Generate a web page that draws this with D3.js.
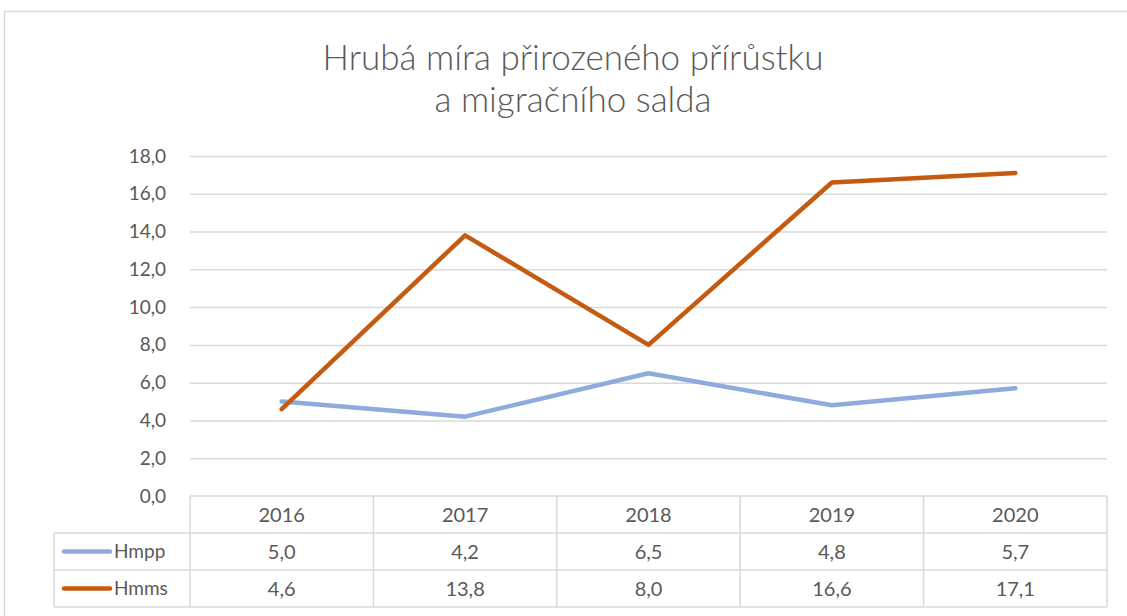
<!DOCTYPE html>
<html>
<head>
<meta charset="utf-8">
<script src="https://cdn.jsdelivr.net/npm/d3@7"></script>
<style>
  html, body { margin: 0; padding: 0; background: #fff; }
  svg { display: block; font-family: Lato, "Open Sans", sans-serif; }
</style>
</head>
<body>
<div id="chart"></div>
<script>
// Data
const years = ['2016', '2017', '2018', '2019', '2020'];
const seriesNames = ['Hmpp', 'Hmms'];
const hmpp = [5.0, 4.2, 6.5, 4.8, 5.7];
const hmms = [4.6, 13.8, 8.0, 16.6, 17.1];
const seriesColors = ['#8faadc', '#c55a11'];
const yTicks = [0, 2, 4, 6, 8, 10, 12, 14, 16, 18];
const titleLines = ['Hrubá míra přirozeného přírůstku', 'a migračního salda'];

const width = 1127, height = 616;
const plot = {left: 190, right: 1107, top: 156, bottom: 496};
const rowH = 37;
const fmt = v => v.toFixed(1).replace('.', ',');

const svg = d3.select('#chart').append('svg')
    .attr('width', width)
    .attr('height', height);

// chart border
svg.append('rect')
    .attr('x', 4.5).attr('y', 11.5)
    .attr('width', 1140).attr('height', 620)
    .attr('fill', '#fff')
    .attr('stroke', '#d9d9d9')
    .attr('stroke-width', 1.5);

// title
svg.append('g').selectAll('text')
    .data(titleLines)
    .enter().append('text')
    .attr('x', 573)
    .attr('y', (d, i) => 70 + i * 42)
    .attr('text-anchor', 'middle')
    .style('font-size', '35px')
    .style('font-weight', 300)
    .style('fill', '#595959')
    .text(d => d);

const x = d3.scaleBand().domain(years).range([plot.left, plot.right]);
const y = d3.scaleLinear().domain([0, 18]).range([plot.bottom, plot.top]);

// gridlines
svg.append('g')
    .attr('transform', `translate(${plot.left},0)`)
    .call(d3.axisLeft(y).tickValues(yTicks.slice(1)).tickSize(-(plot.right - plot.left)).tickFormat(''))
    .call(g => g.select('.domain').remove())
    .selectAll('line')
    .attr('stroke', '#d9d9d9')
    .attr('stroke-width', 1.5);

// y labels
svg.append('g')
    .attr('transform', `translate(${plot.left},0)`)
    .call(d3.axisLeft(y).tickValues(yTicks).tickSize(0).tickPadding(24).tickFormat(fmt))
    .call(g => g.select('.domain').remove())
    .selectAll('text')
    .attr('dy', '0.32em')
    .style('font-family', 'Lato, "Open Sans", sans-serif')
    .style('font-size', '19px')
    .style('fill', '#595959');

// lines
const line = d3.line()
    .x((d, i) => x(years[i]) + x.bandwidth() / 2)
    .y(d => y(d));

[hmpp, hmms].forEach((vals, k) => {
    svg.append('path')
        .datum(vals)
        .attr('fill', 'none')
        .attr('stroke', seriesColors[k])
        .attr('stroke-width', 4.5)
        .attr('stroke-linejoin', 'round')
        .attr('stroke-linecap', 'round')
        .attr('d', line);
});

// data table
const table = svg.append('g');
const border = '#d9d9d9';
const tableLeft = 54;
const tBottom = plot.bottom + rowH * 3;

// horizontal lines
table.append('line')
    .attr('x1', plot.left).attr('x2', plot.right)
    .attr('y1', plot.bottom).attr('y2', plot.bottom);
[1, 2, 3].forEach(r => {
    table.append('line')
        .attr('x1', tableLeft).attr('x2', plot.right)
        .attr('y1', plot.bottom + rowH * r).attr('y2', plot.bottom + rowH * r);
});
// vertical lines
table.append('line')
    .attr('x1', tableLeft).attr('x2', tableLeft)
    .attr('y1', plot.bottom + rowH).attr('y2', tBottom);
years.forEach(yr => {
    table.append('line')
        .attr('x1', x(yr)).attr('x2', x(yr))
        .attr('y1', plot.bottom).attr('y2', tBottom);
});
table.append('line')
    .attr('x1', plot.right).attr('x2', plot.right)
    .attr('y1', plot.bottom).attr('y2', tBottom);
table.selectAll('line')
    .attr('stroke', border)
    .attr('stroke-width', 1.5);

// header row
table.selectAll('.year')
    .data(years)
    .enter().append('text')
    .attr('class', 'year')
    .attr('x', d => x(d) + x.bandwidth() / 2)
    .attr('y', plot.bottom + rowH / 2)
    .attr('dy', '0.35em')
    .attr('text-anchor', 'middle')
    .style('font-size', '20px')
    .style('fill', '#595959')
    .text(d => d);

// series rows
[hmpp, hmms].forEach((vals, k) => {
    const cy = plot.bottom + rowH * (k + 1) + rowH / 2;
    table.append('line')
        .attr('x1', 64).attr('x2', 110)
        .attr('y1', cy).attr('y2', cy)
        .attr('stroke', seriesColors[k])
        .attr('stroke-width', 4.5)
        .attr('stroke-linecap', 'round');
    table.append('text')
        .attr('x', 114)
        .attr('y', cy)
        .attr('dy', '0.35em')
        .style('font-size', '19px')
        .style('fill', '#595959')
        .text(seriesNames[k]);
    table.selectAll('.v' + k)
        .data(vals)
        .enter().append('text')
        .attr('x', (d, i) => x(years[i]) + x.bandwidth() / 2)
        .attr('y', cy)
        .attr('dy', '0.35em')
        .attr('text-anchor', 'middle')
        .style('font-size', '20px')
        .style('fill', '#595959')
        .text(fmt);
});
</script>
</body>
</html>
